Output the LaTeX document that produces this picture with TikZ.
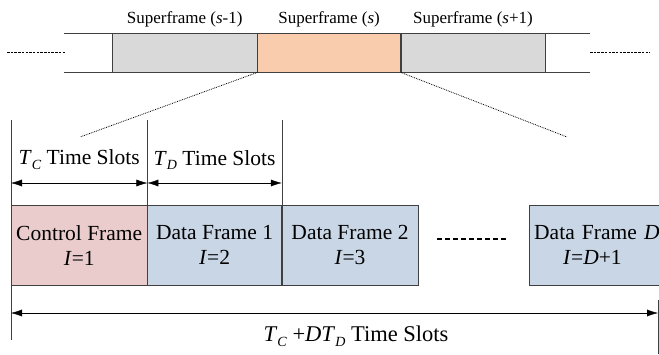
\documentclass[tikz,border=0pt]{standalone}
\usepackage{fontspec}
\setmainfont{Liberation Serif}
\usetikzlibrary{arrows.meta,positioning}
\definecolor{sfgrey}{RGB}{217,217,217}
\definecolor{sforange}{RGB}{248,204,172}
\definecolor{ctrlpink}{RGB}{234,204,204}
\definecolor{datablue}{RGB}{201,214,230}
\newcommand{\tsub}[2]{\textit{#1}\raisebox{-0.45ex}{\fontsize{14}{14}\selectfont\textit{#2}}}

\begin{document}
\begin{tikzpicture}[x=1pt, y=-1pt,
				>={Latex[length=11pt,width=7pt]},   % arrow tips
				sframe/.style={draw=black!75, minimum height=39pt, inner sep=0pt, anchor=north west},
				frame/.style={draw=black!75, minimum height=80pt, inner sep=0pt, anchor=north west, align=center,
					font=\fontsize{21.5}{25}\selectfont},
				sflabel/.style={font=\fontsize{17}{20}\selectfont},
				slotlabel/.style={font=\fontsize{21.5}{25}\selectfont}]
				\useasboundingbox (0,0) rectangle (659,354);
				\clip (0,0) rectangle (659,354);
				% superframes
				\draw[black!75] (64,33) -- (590,33) (64,72) -- (590,72);
				\node[sframe, fill=sfgrey, minimum width=145pt] (sfa) at (112,33) {};
				\node[sframe, fill=sforange, minimum width=143pt] (sfb) at (sfa.north east) {};
				\node[sframe, fill=sfgrey, minimum width=144pt] (sfc) at (sfb.north east) {};
				\node[sflabel, above=2pt of sfa] (la) {Superframe (\textit{s}-1)};
				\node[sflabel, above=2pt of sfb] (lb) {Superframe (\textit{s})};
				\node[sflabel, above=2pt of sfc] (lc) {Superframe (\textit{s}+1)};
				\draw[line width=0.9pt, dash pattern=on 2.5pt off 1.2pt] (7,52) -- (65,52);
				\draw[line width=0.9pt, dash pattern=on 2.5pt off 1.2pt] (590,52) -- (650,52);
				% zoom lines
				\coordinate (za) at (80,137);
				\coordinate (zb) at (567,137);
				\draw[densely dotted, line width=0.8pt] (sfb.south west) -- (za);
				\draw[densely dotted, line width=0.8pt] (sfb.south east) -- (zb);
				% frames
				\node[frame, fill=ctrlpink, minimum width=136pt] (cf) at (11,205) {Control Frame\\\textit{I}=1};
				\node[frame, fill=datablue, minimum width=134pt] (dfa) at (cf.north east) {Data Frame 1\\\textit{I}=2};
				\node[frame, fill=datablue, minimum width=136pt] (dfb) at (dfa.north east) {Data Frame 2\\\textit{I}=3};
				\node[frame, fill=datablue, minimum width=150pt, text width=140pt, inner xsep=4pt, align=left] (dfd) at (529,205)
					{Data Frame \textit{D}\\\hspace*{29pt}\textit{I}=\textit{D}+1};
				\draw[line width=1.6pt, dash pattern=on 5pt off 3pt] (437,239) -- (507,239);
				% time slot marks
				\draw[black!75] ([yshift=85pt]cf.north west) -- ([yshift=-135pt]cf.north west);
				\draw[black!75] ([yshift=85pt]cf.north east) -- (cf.north east);
				\draw[black!75] ([yshift=85pt]dfa.north east) -- (dfa.north east);
				\draw[<->] ([yshift=22pt]cf.north west) -- node[slotlabel, above=10pt] (tc) {\tsub{T}{C} Time Slots} ([yshift=22pt]cf.north east);
				\draw[<->] ([yshift=22pt]dfa.north west) -- node[slotlabel, above=10pt] (td) {\tsub{T}{D} Time Slots} ([yshift=22pt]dfa.north east);
				\coordinate (tend) at (658,313);
				\draw[black!75] (658,300) -- (658,354);
				\draw[<->] ([yshift=-108pt]cf.north west) -- (tend);
				\node[slotlabel, font=\fontsize{22.5}{26}\selectfont] (tall) at (356,336) {\tsub{T}{C} +\tsub{DT}{D} Time Slots};
			\end{tikzpicture}
\end{document}
